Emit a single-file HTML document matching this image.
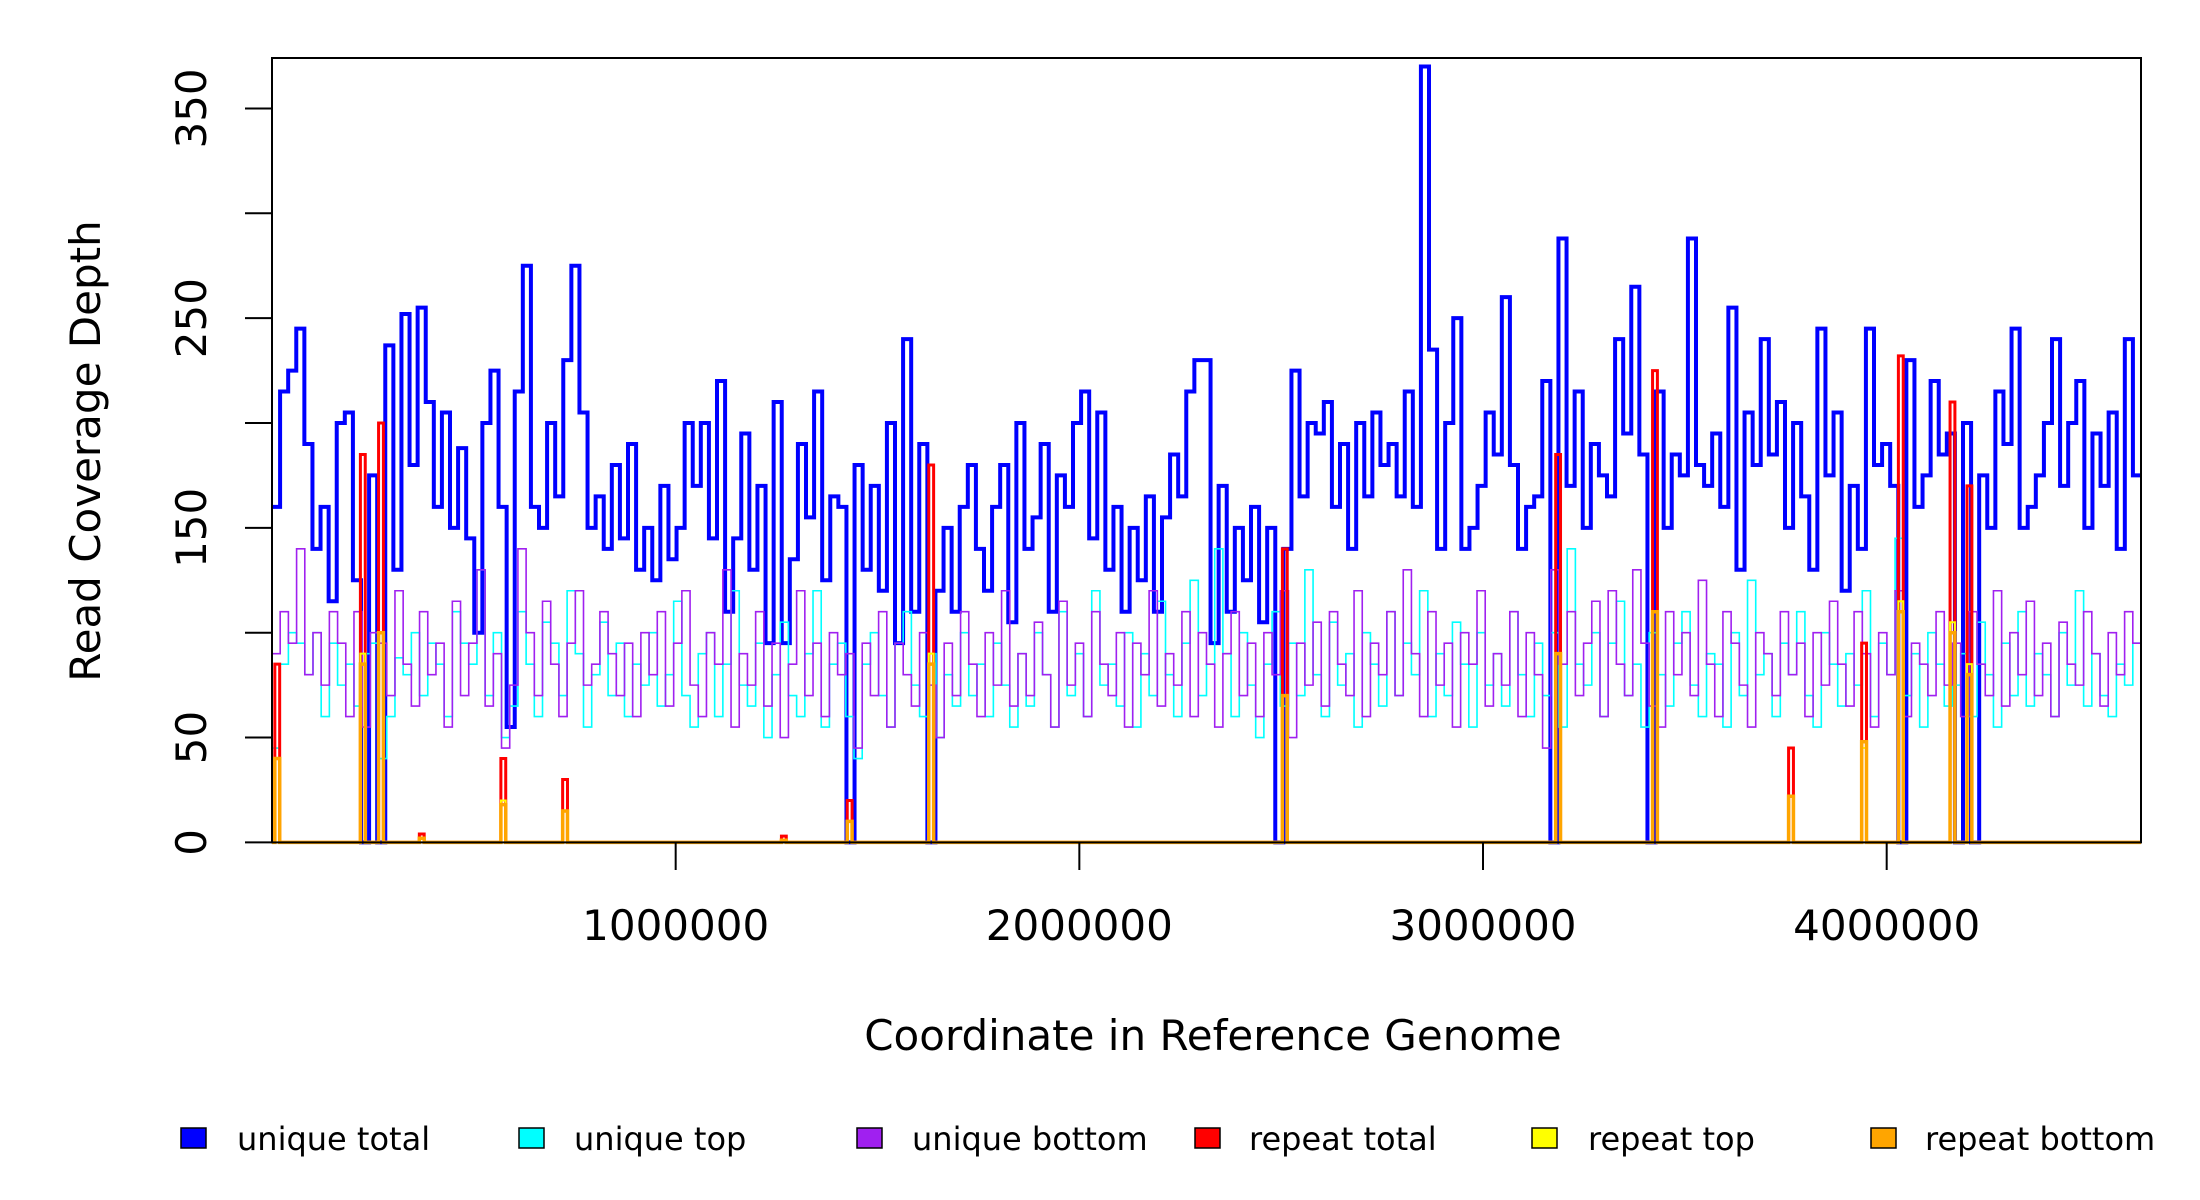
<!DOCTYPE html>
<html><head><meta charset="utf-8"><style>
html,body{margin:0;padding:0;background:#fff;}
svg{display:block;font-family:"DejaVu Sans","Liberation Sans",sans-serif;}
</style></head><body>
<svg id="chart" width="2200" height="1200" viewBox="0 0 2200 1200" xmlns="http://www.w3.org/2000/svg">
<g id="series"></g>
<rect x="272" y="58" width="1869" height="784.4" fill="none" stroke="#000" stroke-width="2"/>
<g id="yaxis"></g>
<g id="xaxis"></g>
<text transform="translate(100,451) rotate(-90)" text-anchor="middle" font-size="42">Read Coverage Depth</text>
<text x="1213" y="1050" text-anchor="middle" font-size="42">Coordinate in Reference Genome</text>
<g id="legend"></g>
</svg>
<script>
const uniqueTotal=[160,215,225,245,190,140,160,115,200,205,125,0,175,0,237,130,252,180,255,210,160,205,150,
188,145,100,200,225,160,55,215,275,160,150,200,165,230,275,205,150,165,140,180,145,190,130,
150,125,170,135,150,200,170,200,145,220,110,145,195,130,170,95,210,95,135,190,155,215,125,
165,160,0,180,130,170,120,200,95,240,110,190,0,120,150,110,160,180,140,120,160,180,105,
200,140,155,190,110,175,160,200,215,145,205,130,160,110,150,125,165,110,155,185,165,215,230,
230,95,170,110,150,125,160,105,150,0,140,225,165,200,195,210,160,190,140,200,165,205,180,
190,165,215,160,370,235,140,200,250,140,150,170,205,185,260,180,140,160,165,220,0,288,170,
215,150,190,175,165,240,195,265,185,0,215,150,185,175,288,180,170,195,160,255,130,205,180,240,
185,210,150,200,165,130,245,175,205,120,170,140,245,180,190,170,0,230,160,175,220,185,195,
0,200,0,175,150,215,190,245,150,160,175,200,240,170,200,220,150,195,170,205,140,240,175];
const uniqueTop=[45,85,100,95,80,100,60,95,75,85,65,90,95,40,60,88,80,100,70,95,85,60,110,
95,85,130,70,100,50,65,110,85,60,105,95,70,120,90,55,80,105,70,95,60,85,75,
100,65,80,115,70,55,90,100,60,85,120,75,65,95,50,80,105,70,60,90,120,55,85,
95,60,40,85,100,70,55,95,110,75,60,90,50,80,65,100,70,85,60,95,75,55,90,
65,100,80,55,110,70,90,60,120,75,85,65,100,55,90,70,115,80,60,95,125,70,85,
140,90,60,100,75,50,85,110,65,95,70,130,80,60,105,75,90,55,100,85,65,110,70,
95,80,120,60,90,70,105,85,55,100,75,90,65,110,80,60,95,70,100,55,140,85,
75,100,60,95,115,70,85,55,100,80,65,95,110,75,60,90,85,55,100,70,125,80,90,
60,95,80,110,70,55,100,85,65,90,75,120,60,95,80,145,70,90,55,100,85,65,
75,90,60,105,80,55,95,70,110,65,90,80,60,100,75,120,65,90,70,60,85,75,95];
const uniqueBottom=[90,110,95,140,80,100,75,110,95,60,110,55,100,95,70,120,85,65,110,80,95,55,115,
70,95,130,65,90,45,75,140,100,70,115,85,60,95,120,75,85,110,90,70,95,60,100,
80,110,65,95,120,75,60,100,85,130,55,90,75,110,65,95,50,85,120,70,95,60,100,
80,90,45,95,70,110,55,95,80,65,100,75,50,95,70,110,85,60,100,75,120,65,90,
70,105,80,55,115,75,95,60,110,85,70,100,55,95,80,120,65,90,75,110,60,100,85,
55,90,110,70,95,60,100,80,120,50,95,75,105,65,110,85,70,120,60,95,80,110,70,
130,90,60,110,75,95,55,100,85,120,65,90,75,110,60,100,80,45,130,85,110,70,
95,115,60,120,85,70,130,95,65,55,110,80,100,70,125,85,60,110,95,75,55,100,90,
70,110,80,95,60,100,75,115,85,65,110,90,55,100,80,120,60,95,85,70,110,75,
95,60,110,85,70,120,65,100,80,115,70,95,60,105,85,75,110,90,65,100,80,110,95];
const repeatPos=[7000,219000,264000,365000,567000,720000,1262000,1425000,1627000,2503000,3180000,3420000,3757000,3938000,4029000,4157000,4199000];
const repeatTotal=[85,185,200,4,40,30,3,20,180,140,185,225,45,95,232,210,170];
const repeatTop=[40,90,100,2,20,15,1,10,90,70,90,110,22,45,115,105,85];
const repeatBottom=[40,85,100,2,18,15,1,10,85,70,90,110,22,48,110,100,80];
const yTicks=[0,50,100,150,200,250,300,350];
const yTickLabels=["0","50","","150","","250","","350"];
const xTicks=[1000000,2000000,3000000,4000000];
const xTickLabels=["1000000","2000000","3000000","4000000"];
const legendLabels=["unique total","unique top","unique bottom","repeat total","repeat top","repeat bottom"];
const legendColors=["#0000ff","#00ffff","#a020f0","#ff0000","#ffff00","#ffa500"];

const GEN=4630000, X0=272, X1=2141, Y0=842.4, YS=2.097;
const NS="http://www.w3.org/2000/svg";
function sx(b){return X0+b/GEN*(X1-X0);}
function sy(v){return Y0-v*YS;}
function mk(tag,attrs,parent){const e=document.createElementNS(NS,tag);for(const k in attrs)e.setAttribute(k,attrs[k]);parent.appendChild(e);return e;}
const S=document.getElementById('series');
function stepPath(vals){const w=GEN/vals.length;let d='M'+sx(0)+' '+sy(vals[0]);
 for(let i=0;i<vals.length;i++){d+=' H'+sx((i+1)*w).toFixed(2);if(i+1<vals.length)d+=' V'+sy(vals[i+1]).toFixed(2);}return d;}
function spikePath(pos,vals){let d='M'+sx(0)+' '+sy(0);const w=12000;
 for(let i=0;i<pos.length;i++){const a=sx(pos[i]),b=sx(pos[i]+w);d+=' H'+a.toFixed(2)+' V'+sy(vals[i]).toFixed(2)+' H'+b.toFixed(2)+' V'+sy(0);}
 d+=' H'+sx(GEN);return d;}
let p;
p=mk('path',{d:stepPath(uniqueTotal),fill:'none',stroke:'#0000ff','stroke-width':4},S);


p=mk('path',{d:stepPath(uniqueTop),fill:'none',stroke:'#00ffff','stroke-width':1.6},S);


p=mk('path',{d:stepPath(uniqueBottom),fill:'none',stroke:'#a020f0','stroke-width':1.6},S);


p=mk('path',{d:spikePath(repeatPos,repeatTotal),fill:'none',stroke:'#ff0000','stroke-width':3},S);


p=mk('path',{d:spikePath(repeatPos,repeatTop),fill:'none',stroke:'#ffff00','stroke-width':2},S);


p=mk('path',{d:spikePath(repeatPos,repeatBottom),fill:'none',stroke:'#ffa500','stroke-width':3.5},S);



const YA=document.getElementById('yaxis');
yTicks.forEach((t,i)=>{
 const l=mk('line',{x1:245,x2:272,y1:sy(t),y2:sy(t),stroke:'#000','stroke-width':2},YA);
 
 
 if(yTickLabels[i]){const tx=mk('text',{transform:'translate(206,'+sy(t)+') rotate(-90)','text-anchor':'middle','font-size':42},YA);
 tx.textContent=yTickLabels[i];
 
 }
});
const XA=document.getElementById('xaxis');
xTicks.forEach((t,i)=>{
 const l=mk('line',{x1:sx(t),x2:sx(t),y1:842,y2:870,stroke:'#000','stroke-width':2},XA);
 
 
 const tx=mk('text',{x:sx(t),y:940,'text-anchor':'middle','font-size':42},XA);
 tx.textContent=xTickLabels[i];
 
 
});
const LG=document.getElementById('legend');
const sqX=[181,519,857,1195,1532,1871], txX=[237,574,912,1249,1588,1925];
legendLabels.forEach((lab,i)=>{
 const g=mk('g',{},LG);
 
 
 mk('rect',{x:sqX[i],y:1128,width:25,height:20,fill:legendColors[i],stroke:'#000','stroke-width':1.5},g);
 const tx=mk('text',{x:txX[i],y:1150,'font-size':32},g);
 tx.textContent=lab;
});
</script>
</body></html>
